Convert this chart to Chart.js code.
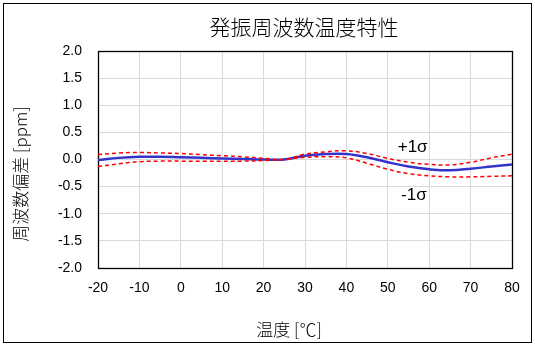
<!DOCTYPE html>
<html>
<head>
<meta charset="utf-8">
<script src="https://cdn.jsdelivr.net/npm/chart.js@4/dist/chart.umd.min.js"></script>
<style>
  body { margin: 0; background: #fff; }
  canvas { display: block; }
</style>
</head>
<body>
<canvas id="grafico" width="535" height="346"></canvas>
<script>
// temperature [°C] and frequency deviation [ppm]
const temperature = [-20, -15, -10, -5, 0, 5, 10, 15, 20, 25, 30, 35, 40, 45, 50, 55, 60, 65, 70, 75, 80];
const devMean  = [-0.01, 0.03, 0.05, 0.05, 0.04, 0.03, 0.02, 0.01, 0.00, 0.00, 0.07, 0.10, 0.10, 0.04, -0.05, -0.13, -0.18, -0.20, -0.17, -0.13, -0.09];
const devPlus  = [0.09, 0.12, 0.13, 0.12, 0.11, 0.09, 0.07, 0.05, 0.02, 0.00, 0.10, 0.14, 0.16, 0.11, 0.02, -0.05, -0.09, -0.10, -0.05, 0.03, 0.10];
const devMinus = [-0.13, -0.08, -0.04, -0.03, -0.03, -0.03, -0.03, -0.03, -0.02, 0.00, 0.04, 0.05, 0.03, -0.07, -0.18, -0.26, -0.30, -0.32, -0.32, -0.31, -0.30];

// sigma labels: [text, x, y] in data units
const sigmaLabels = [['+1σ', 56, 0.23], ['-1σ', 56.3, -0.66]];

const titolo = '発振周波数温度特性';
const titoloX = '温度 [℃]';
const titoloY = '周波数偏差 [ppm]';

const latin = '"Liberation Sans", Arial, sans-serif';
const cjk = '"Noto Sans CJK JP", sans-serif';

function punti(arr) {
  return temperature.map((t, i) => ({ x: t, y: arr[i] }));
}

// frame, titles and sigma labels
const cornice = {
  id: 'cornice',
  beforeDraw(chart) {
    const ctx = chart.ctx;
    ctx.save();
    ctx.fillStyle = '#fff';
    ctx.fillRect(0, 0, chart.width, chart.height);
    ctx.strokeStyle = '#000';
    ctx.lineWidth = 1;
    ctx.strokeRect(3.5, 3.5, chart.width - 7, chart.height - 7);
    ctx.restore();
  },
  beforeDatasetsDraw(chart) {
    const a = chart.chartArea;
    const ctx = chart.ctx;
    ctx.save();
    ctx.strokeStyle = '#000';
    ctx.lineWidth = 1.3;
    ctx.strokeRect(Math.round(a.left) + 0.5, Math.round(a.top) + 0.5,
      Math.round(a.right - a.left), Math.round(a.bottom - a.top));
    ctx.restore();
  },
  afterDraw(chart) {
    const ctx = chart.ctx;
    const sx = chart.scales.x, sy = chart.scales.y;
    ctx.save();
    ctx.fillStyle = '#000';
    ctx.textAlign = 'center';
    ctx.textBaseline = 'middle';

    ctx.font = '300 21px ' + cjk;
    ctx.fillText(titolo, 304, 27);

    ctx.font = '300 17px ' + cjk;
    ctx.fillText(titoloX, 289, 330);

    ctx.save();
    ctx.translate(21, 174);
    ctx.rotate(-Math.PI / 2);
    ctx.fillText(titoloY, 0, 0);
    ctx.restore();

    ctx.font = '17px ' + latin;
    sigmaLabels.forEach(([txt, x, y]) => {
      ctx.fillText(txt, sx.getPixelForValue(x), sy.getPixelForValue(y));
    });
    ctx.restore();
  }
};

const ctx = document.getElementById('grafico').getContext('2d');
new Chart(ctx, {
  type: 'scatter',
  data: {
    datasets: [
      {
        label: '-1σ',
        data: punti(devMinus),
        showLine: true,
        borderColor: '#ff0000',
        borderWidth: 1.5,
        borderDash: [4, 3],
        pointRadius: 0,
        tension: 0.4
      },
      {
        label: '+1σ',
        data: punti(devPlus),
        showLine: true,
        borderColor: '#ff0000',
        borderWidth: 1.5,
        borderDash: [4, 3],
        pointRadius: 0,
        tension: 0.4
      },
      {
        label: 'mean',
        data: punti(devMean),
        showLine: true,
        borderColor: '#3333cc',
        borderWidth: 2.5,
        pointRadius: 0,
        tension: 0.4
      }
    ]
  },
  options: {
    responsive: false,
    animation: false,
    events: [],
    layout: { padding: { top: 51, right: 23, bottom: 0, left: 0 } },
    plugins: {
      legend: { display: false },
      tooltip: { enabled: false }
    },
    scales: {
      x: {
        type: 'linear',
        min: -20,
        max: 80,
        afterFit: s => { s.height = 78; },
        grid: { color: '#d9d9d9', drawTicks: false },
        border: { display: false },
        ticks: {
          stepSize: 10,
          padding: 12,
          color: '#000',
          font: { family: latin, size: 14 }
        }
      },
      y: {
        min: -2,
        max: 2,
        afterFit: s => { s.width = 98; },
        grid: { color: '#d9d9d9', drawTicks: false },
        border: { display: false },
        ticks: {
          stepSize: 0.5,
          padding: 16,
          color: '#000',
          font: { family: latin, size: 14 },
          callback: v => v.toFixed(1)
        }
      }
    }
  },
  plugins: [cornice]
});
</script>
</body>
</html>
